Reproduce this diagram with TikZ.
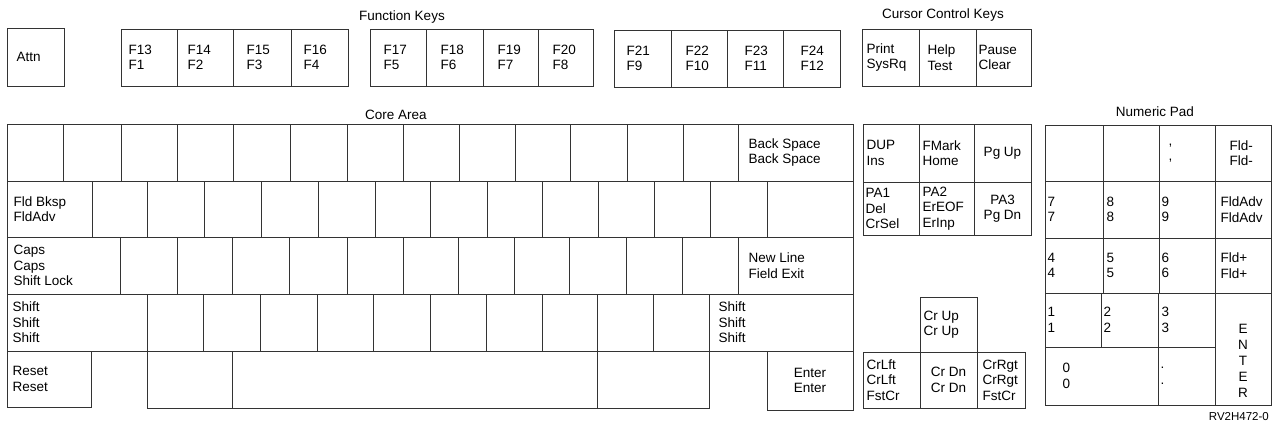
\documentclass[tikz,border=0pt]{standalone}
\usepackage{fontspec}
\setmainfont{Liberation Sans}
\tikzset{
  keybox/.style={draw=black!80, line width=1pt, inner sep=0pt},
  ktext/.style={font=\fontsize{13.5}{15.5}\selectfont, align=left, inner sep=0pt, anchor=west},
  ctext/.style={font=\fontsize{13.5}{15.5}\selectfont, align=center, inner sep=0pt, anchor=center},
  title/.style={font=\fontsize{13.5}{15.5}\selectfont, inner sep=0pt},
  smalltitle/.style={font=\fontsize{11.5}{13}\selectfont, inner sep=0pt}
}
% box: name, x1, y1, x2, y2
\newcommand\kb[5]{\node[keybox, minimum width={(#4-#2)*1pt}, minimum height={(#5-#3)*1pt}] (#1) at ({(#2+#4)/2},{(#3+#5)/2}) {};}
% left text: name, inset, text
\newcommand\kt[3]{\node[ktext] (#1t) at ([xshift=#2pt]#1.west) {#3};}
% centered text: name, text
\newcommand\kc[2]{\node[ctext] (#1t) at (#1.center) {#2};}
\begin{document}
\begin{tikzpicture}[x=1pt,y=-1pt]
\useasboundingbox (0,0) rectangle (1278,426);

% ---------- headings
\node[title] (fk) at (402,17) {Function Keys};
\node[title] (cck) at (943,15) {Cursor Control Keys};
\node[title] (core) at (396,115) {Core Area};
\node[title] (npad) at (1155,112) {Numeric Pad};
\node[smalltitle, anchor=east] (code) at (1269,417) {RV2H472-0};

% ---------- function row
\kb{attn}{7}{28}{64}{86}\kt{attn}{10}{Attn}
\kb{f13}{121}{29}{177}{86}\kt{f13}{8}{F13\\F1}
\kb{f14}{177}{29}{233}{86}\kt{f14}{11}{F14\\F2}
\kb{f15}{233}{29}{291}{86}\kt{f15}{14}{F15\\F3}
\kb{f16}{291}{29}{348}{86}\kt{f16}{13}{F16\\F4}
\kb{f17}{370}{29}{426}{86}\kt{f17}{14}{F17\\F5}
\kb{f18}{426}{29}{483}{86}\kt{f18}{15}{F18\\F6}
\kb{f19}{483}{29}{538}{86}\kt{f19}{15}{F19\\F7}
\kb{f20}{538}{29}{593}{86}\kt{f20}{15}{F20\\F8}
\kb{f21}{614}{30}{671}{87}\kt{f21}{13}{F21\\F9}
\kb{f22}{671}{30}{727}{87}\kt{f22}{15}{F22\\F10}
\kb{f23}{727}{30}{783}{87}\kt{f23}{18}{F23\\F11}
\kb{f24}{783}{30}{840}{87}\kt{f24}{18}{F24\\F12}
\kb{print}{862}{29}{919}{86}\kt{print}{5}{Print\\SysRq}
\kb{help}{919}{29}{976}{86}\kt{help}{9}{Help\\Test}
\kb{pause}{976}{29}{1031}{86}\kt{pause}{3}{Pause\\Clear}

% ---------- core area row 1
\foreach \a/\b [count=\i] in {7/63,63/121,121/177,177/233,233/290,290/347,347/403,403/459,459/515,515/570,570/627,627/683,683/738}
  {\kb{ra\i}{\a}{124}{\b}{181}}
\kb{bksp}{738}{124}{853}{181}\kt{bksp}{11}{Back Space\\Back Space}

% row 2
\kb{fldbksp}{7}{181}{92}{237}\kt{fldbksp}{7}{Fld Bksp\\FldAdv}
\foreach \a/\b [count=\i] in {92/147,147/204,204/261,261/318,318/375,375/430,430/487,487/542,542/598,598/654,654/710,710/767,767/853}
  {\kb{rb\i}{\a}{181}{\b}{237}}

% row 3
\kb{caps}{7}{237}{120}{294}\kt{caps}{7}{Caps\\Caps\\Shift Lock}
\foreach \a/\b [count=\i] in {120/177,177/232,232/289,289/347,347/403,403/458,458/514,514/569,569/626,626/682,682/738}
  {\kb{rc\i}{\a}{237}{\b}{294}}
\kb{newline}{738}{237}{853}{294}\kt{newline}{11}{New Line\\Field Exit}

% row 4
\kb{lshift}{7}{294}{147}{351}\kt{lshift}{6}{Shift\\Shift\\Shift}
\foreach \a/\b [count=\i] in {147/203,203/260,260/317,317/373,373/430,430/486,486/542,542/597,597/653,653/709}
  {\kb{rd\i}{\a}{294}{\b}{351}}
\kb{rshift}{709}{294}{853}{351}\kt{rshift}{10}{Shift\\Shift\\Shift}

% row 5
\kb{reset}{7}{351}{91}{407}\kt{reset}{6}{Reset\\Reset}
\kb{re1}{147}{351}{232}{408}
\kb{space}{232}{351}{597}{408}
\kb{re2}{597}{351}{709}{408}
\kb{enter}{767}{351}{853}{410}\kc{enter}{Enter\\Enter}

% ---------- editing block
\kb{dup}{863}{124}{919}{182}\kt{dup}{4}{DUP\\Ins}
\kb{fmark}{919}{124}{974}{182}\kt{fmark}{4}{FMark\\Home}
\kb{pgup}{974}{124}{1031}{182}\kc{pgup}{Pg Up}
\kb{pa1}{863}{182}{919}{235}\kt{pa1}{3}{PA1\\Del\\CrSel}
\kb{pa2}{919}{182}{974}{235}\kt{pa2}{4}{PA2\\ErEOF\\ErInp}
\kb{pa3}{974}{182}{1031}{235}\kc{pa3}{PA3\\Pg Dn}

% ---------- cursor keys
\kb{crup}{920}{297}{977}{352}\kt{crup}{4}{Cr Up\\Cr Up}
\kb{crlft}{863}{352}{920}{408}\kt{crlft}{4}{CrLft\\CrLft\\FstCr}
\kb{crdn}{920}{352}{977}{408}\kc{crdn}{Cr Dn\\Cr Dn}
\kb{crrgt}{977}{352}{1025}{408}\kt{crrgt}{6}{CrRgt\\CrRgt\\FstCr}

% ---------- numeric pad
\kb{na}{1045}{125}{1103}{181}
\kb{nb}{1103}{125}{1159}{181}
\kb{ncomma}{1159}{125}{1215}{181}\kt{ncomma}{10}{,\\,}
\kb{nminus}{1215}{125}{1271}{181}\kt{nminus}{15}{Fld-\\Fld-}
\kb{n7}{1045}{181}{1103}{238}\kt{n7}{3}{7\\7}
\kb{n8}{1103}{181}{1159}{238}\kt{n8}{4}{8\\8}
\kb{n9}{1159}{181}{1215}{238}\kt{n9}{3}{9\\9}
\kb{nadv}{1215}{181}{1271}{238}\kt{nadv}{6}{FldAdv\\FldAdv}
\kb{n4}{1045}{238}{1103}{293}\kt{n4}{3}{4\\4}
\kb{n5}{1103}{238}{1159}{293}\kt{n5}{4}{5\\5}
\kb{n6}{1159}{238}{1215}{293}\kt{n6}{3}{6\\6}
\kb{nplus}{1215}{238}{1271}{293}\kt{nplus}{6}{Fld+\\Fld+}
\kb{n1}{1045}{293}{1101}{347}\kt{n1}{3}{1\\1}
\kb{n2}{1101}{293}{1158}{347}\kt{n2}{3}{2\\2}
\kb{n3}{1158}{293}{1215}{347}\kt{n3}{4}{3\\3}
\kb{n0}{1045}{347}{1158}{405}\kt{n0}{18}{0\\0}
\kb{ndot}{1158}{347}{1215}{405}\kt{ndot}{3}{.\\.}
\kb{nenter}{1215}{293}{1271}{405}
\node[ctext, font=\fontsize{13.5}{16}\selectfont] (nentert) at (1243,361) {E\\N\\T\\E\\R};
\end{tikzpicture}
\end{document}
